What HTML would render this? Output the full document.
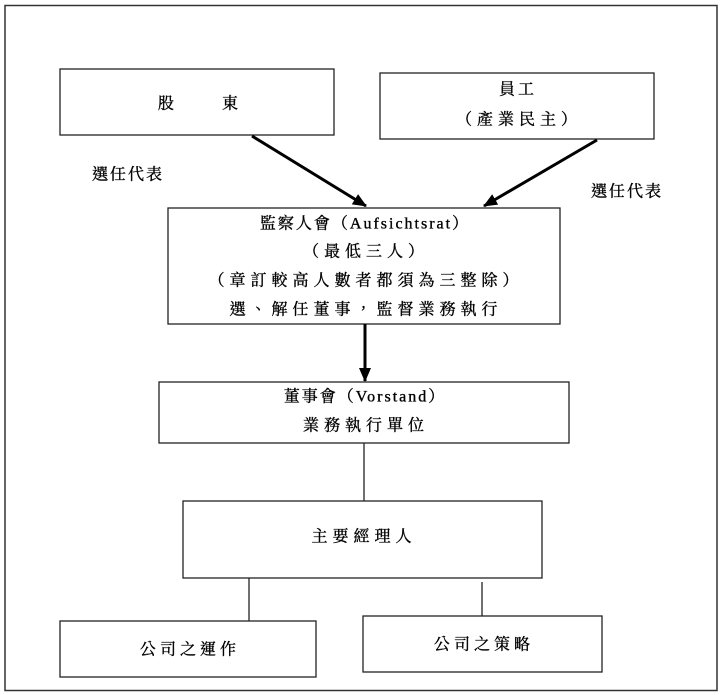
<!DOCTYPE html>
<html><head><meta charset="utf-8"><style>
html,body{margin:0;padding:0;background:#fff;width:720px;height:695px;overflow:hidden}
svg text{font-family:"Liberation Serif","Noto Serif CJK TC","Noto Serif CJK SC",serif;font-size:16px;fill:#000;stroke:#000;stroke-width:0.35;text-anchor:middle;dominant-baseline:central}
</style></head><body>
<svg width="720" height="695" viewBox="0 0 720 695" xmlns="http://www.w3.org/2000/svg">
<defs><marker id="ah" markerWidth="14" markerHeight="12" refX="13" refY="6" orient="auto" markerUnits="userSpaceOnUse"><path d="M0,0 L14,6 L0,12 z" fill="#000"/></marker></defs>
<rect x="5" y="5.5" width="712" height="685" fill="none" stroke="#333" stroke-width="1.5"/>
<g fill="none" stroke="#222" stroke-width="1.3">
<rect x="60" y="69" width="274" height="66"/>
<rect x="380" y="73" width="274" height="66"/>
<rect x="168" y="208" width="392" height="116"/>
<rect x="159" y="382" width="410" height="61"/>
<rect x="183" y="501" width="359" height="77"/>
<rect x="60" y="621" width="256" height="56"/>
<rect x="363" y="616" width="239" height="56"/>
</g>
<g stroke="#000" stroke-width="3">
<line x1="252" y1="136" x2="366" y2="206" marker-end="url(#ah)"/>
<line x1="597" y1="140" x2="484" y2="206" marker-end="url(#ah)"/>
<line x1="365" y1="324" x2="365" y2="381" marker-end="url(#ah)"/>
</g>
<g stroke="#222" stroke-width="1.3">
<line x1="364" y1="443" x2="364" y2="501"/>
<line x1="249" y1="578" x2="249" y2="621"/>
<line x1="482" y1="582" x2="482" y2="616"/>
</g>
<text x="166" y="104">股</text>
<text x="230" y="104">東</text>
<text x="518" y="90" letter-spacing="3">員工</text>
<text x="519" y="120" letter-spacing="5">（產業民主）</text>
<text x="128" y="175" letter-spacing="2">選任代表</text>
<text x="627" y="192" letter-spacing="2">選任代表</text>
<text x="365" y="224" letter-spacing="2">監察人會（Aufsichtsrat）</text>
<text x="366" y="252" letter-spacing="5">（最低三人）</text>
<text x="366" y="281" letter-spacing="5">（章訂較高人數者都須為三整除）</text>
<text x="366" y="310" letter-spacing="5">選、解任董事，監督業務執行</text>
<text x="365" y="397" letter-spacing="2">董事會（Vorstand）</text>
<text x="366" y="426" letter-spacing="5">業務執行單位</text>
<text x="364" y="537" letter-spacing="5">主要經理人</text>
<text x="190" y="650" letter-spacing="4">公司之運作</text>
<text x="484" y="645" letter-spacing="4">公司之策略</text>
</svg>
</body></html>
